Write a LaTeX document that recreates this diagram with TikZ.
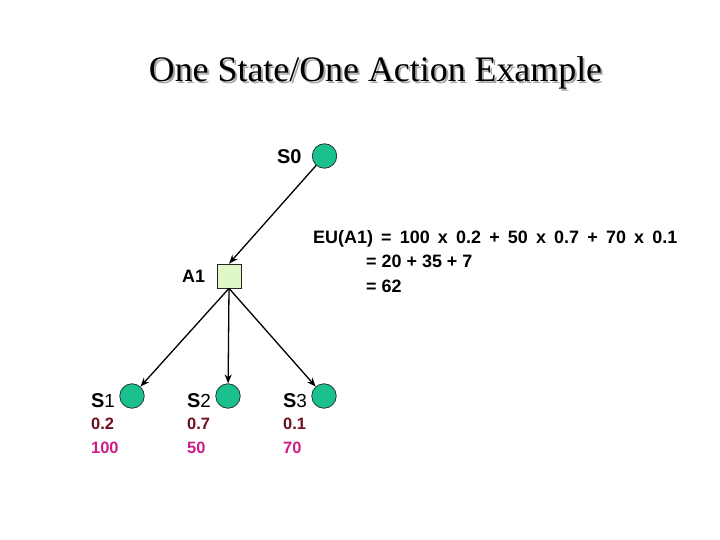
\documentclass[tikz,border=0pt]{standalone}
\usepackage{fontspec}
\setmainfont{Liberation Sans}
\newfontfamily\titlefont{Liberation Serif}
\usetikzlibrary{arrows.meta}
\definecolor{stategreen}{RGB}{26,192,142}
\definecolor{actfill}{RGB}{224,248,200}
\definecolor{probcol}{RGB}{110,15,30}
\definecolor{utilcol}{RGB}{204,30,134}
\newcommand{\shadowtext}[1]{\makebox[0pt][l]{\hspace{2bp}\raisebox{-2bp}{\textcolor{black!35}{#1}}}#1}
\begin{document}
\begin{tikzpicture}[x=1bp,y=-1bp,
  statenode/.style={circle,draw=black!85,fill=stategreen,minimum size=24.5bp,inner sep=0pt,line width=0.7bp},
  actnode/.style={rectangle,draw=black!85,fill=actfill,minimum size=24bp,inner sep=0pt,line width=0.7bp},
  lbl/.style={font=\fontsize{20}{22}\selectfont\bfseries,inner sep=0pt,anchor=base west},
  prob/.style={font=\fontsize{16.5}{18}\selectfont\bfseries,text=probcol,anchor=base west,inner sep=0pt},
  util/.style={font=\fontsize{16.5}{18}\selectfont\bfseries,text=utilcol,anchor=base west,inner sep=0pt},
  arr/.style={-{Stealth[length=9bp,width=7bp]},line width=1.3bp},
  eu/.style={font=\fontsize{18}{20}\selectfont\bfseries,anchor=base west,inner sep=0pt},
  titlestyle/.style={font=\titlefont\fontsize{36}{40}\selectfont,anchor=base,inner sep=0pt}]
\useasboundingbox (0,0) rectangle (720,540);
% title with shadow
\node[titlestyle] (title) at (375.5,82) {\shadowtext{One State/One Action Example}};
% nodes
\node[statenode] (s0) at (324.5,156) {};
\node[actnode] (a1) at (229,276) {};
\node[statenode] (s1) at (132,396) {};
\node[statenode] (s2) at (228,396) {};
\node[statenode] (s3) at (324,396) {};
% labels
\node[lbl] (s0l) at (277,164) {S0};
\node[lbl,font=\fontsize{18}{20}\selectfont\bfseries] (a1l) at (182,283) {A1};
\node[lbl] (s1l) at (91,407) {S{\fontseries{m}\fontsize{19}{20}\selectfont 1}};
\node[lbl] (s2l) at (187,407) {S{\fontseries{m}\fontsize{19}{20}\selectfont 2}};
\node[lbl] (s3l) at (283,407) {S{\fontseries{m}\fontsize{19}{20}\selectfont 3}};
\node[prob] (p1) at (91,429) {0.2};
\node[prob] (p2) at (187,429) {0.7};
\node[prob] (p3) at (283,429) {0.1};
\node[util] (u1) at (91,453) {100};
\node[util] (u2) at (187,453) {50};
\node[util] (u3) at (283,453) {70};
% EU text
\node[eu] (eu1) at (313,244) {\spaceskip=8.2bp\relax EU(A1) = 100 x 0.2 + 50 x 0.7 + 70 x 0.1};
\node[eu] (eu2) at (366,268) {= 20 + 35 + 7};
\node[eu] (eu3) at (366,292) {= 62};
% connectors
\draw[arr] (s0) -- (a1.north);
\draw[arr] (a1.south) -- (s1);
\draw[arr] (a1.south) -- (s2);
\draw[arr] (a1.south) -- (s3);
\end{tikzpicture}
\end{document}
